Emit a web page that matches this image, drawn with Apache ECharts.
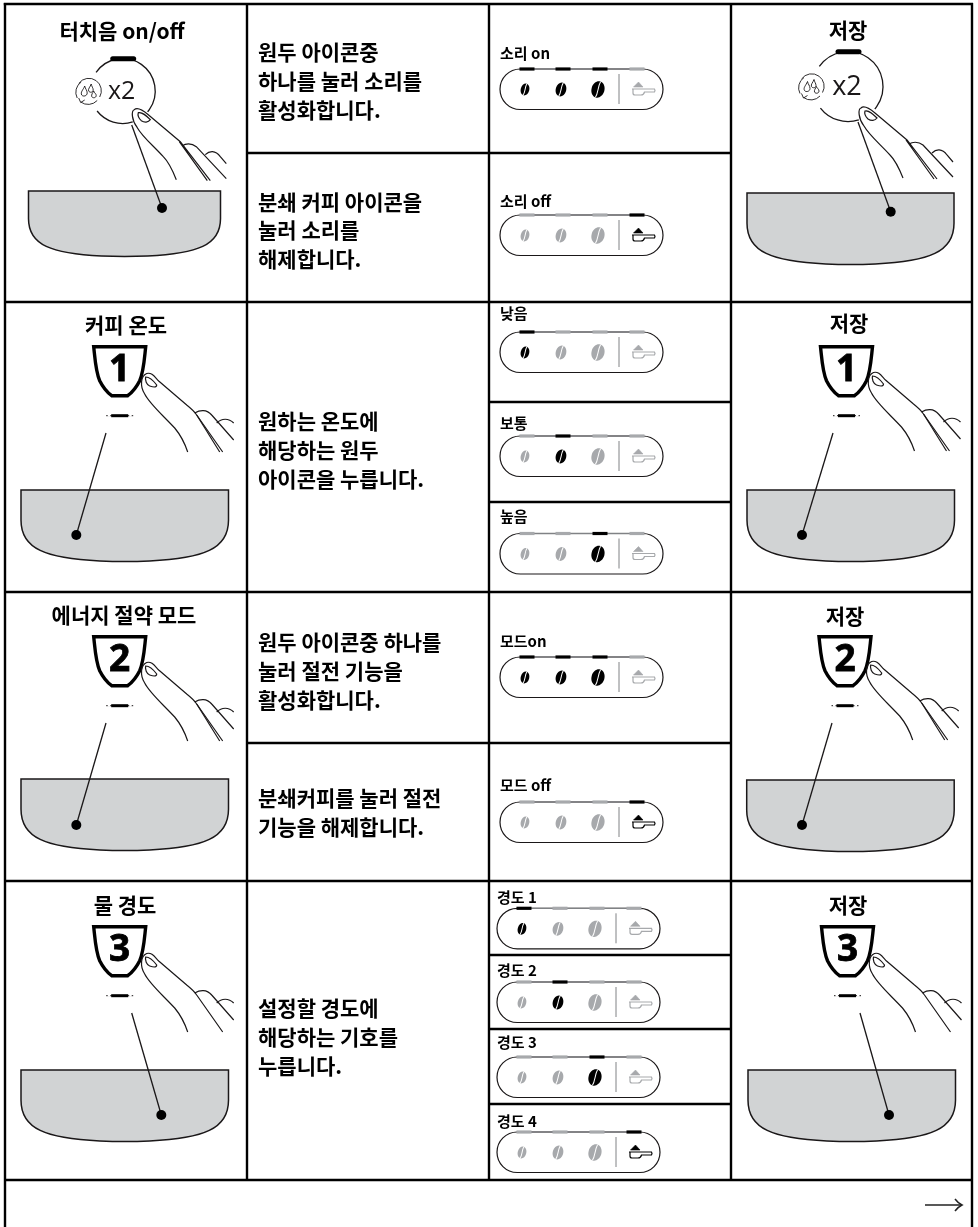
<!DOCTYPE html>
<html>
<head>
<meta charset="utf-8">
<style>
  html, body { margin: 0; padding: 0; background: #fff; }
  #main { width: 978px; height: 1227px; }
</style>
<script src="https://cdn.jsdelivr.net/npm/echarts@6/dist/echarts.min.js"></script>
</head>
<body>
<div id="main"></div>
<script>
// text of the table
const stepTitles = ['터치음 on/off', '커피 온도', '에너지 절약 모드', '물 경도'];
const saveTitle = '저장';
const instructions = [
  ['원두 아이콘중', '하나를 눌러 소리를', '활성화합니다.'],
  ['분쇄 커피 아이콘을', '눌러 소리를', '해제합니다.'],
  ['원하는 온도에', '해당하는 원두', '아이콘을 누릅니다.'],
  ['원두 아이콘중 하나를', '눌러 절전 기능을', '활성화합니다.'],
  ['분쇄커피를 눌러 절전', '기능을 해제합니다.'],
  ['설정할 경도에', '해당하는 기호를', '누릅니다.']
];
const panelLabels = ['소리 on', '소리 off', '낮음', '보통', '높음', '모드on', '모드 off', '경도 1', '경도 2', '경도 3', '경도 4'];
// which of the four panel buttons are lit, per panel
const panelActive = [
  [1, 1, 1, 0], [0, 0, 0, 1],
  [1, 0, 0, 0], [0, 1, 0, 0], [0, 0, 1, 0],
  [1, 1, 1, 0], [0, 0, 0, 1],
  [1, 0, 0, 0], [0, 1, 0, 0], [0, 0, 1, 0], [0, 0, 0, 1]
];
const cupNumbers = ['1', '2', '3'];

const INK = '#1a1718';
const GREY = '#a7a9ac';
const KO = '"Noto Sans CJK KR"';

let els = [];

function line(x1, y1, x2, y2, w, c, cap) {
  els.push({
    type: 'line',
    shape: { x1, y1, x2, y2 },
    style: { stroke: c || INK, lineWidth: w || 1.3, lineCap: cap || 'butt' }
  });
}
function path(d, x, y, style) {
  els.push({
    type: 'path',
    x, y,
    shape: { pathData: d },
    style: Object.assign({ fill: 'none', stroke: INK, lineWidth: 1.2 }, style)
  });
}
function label(text, x, y, font, align, extra) {
  els.push({
    type: 'text',
    style: Object.assign({ text, x, y, font, fill: '#000', align: align || 'left', verticalAlign: 'middle' }, extra)
  });
}

function tray(x, y, w, h) {
  const d = `M0 0 L${w} 0 L${w} ${h * 0.42} C${w} ${h * 0.82} ${w * 0.88} ${h * 0.95} ${w * 0.62} ${h * 0.985}
    Q${w * 0.5} ${h} ${w * 0.38} ${h * 0.985} C${w * 0.12} ${h * 0.95} 0 ${h * 0.82} 0 ${h * 0.42} Z`;
  path(d, x, y, { fill: '#d1d3d4', lineWidth: 1.5 });
}
function dotLine(x1, y1, x2, y2) {
  line(x1, y1, x2, y2, 1.3);
  els.push({ type: 'circle', shape: { cx: x2, cy: y2, r: 5 }, style: { fill: '#000' } });
}

// finger for the round x2 button
function handRound(x, y) {
  path('M43 68 C39 58 35 50 30 45 C20 34 9 25 4 16 C-2 8 -2 -1 1 -2 C4 -5 9 -2 15 3 L47 30 L77 69 M46 30 L74 69', x, y);
  path('M49 34 C52 32 58 31 63 35 L93 67 M72 43 C76 39 82 38 87 45 L93 52', x, y);
  path('M5 1 C9 0 13 4 17 8 C15 11 11 11 8 9 C6 7 4 4 5 1 Z', x, y);
}
// finger for the numbered cup button
function handCup(x, y, single) {
  path('M46 72 C42 60 38 54 33 48 C20 34 8 24 3 14 C-2 6 -1 -4 5 -6.5 C10 -8 13 -3 17 1 L45 25 C50 29 53 32 55 35 L81 72', x, y);
  if (!single) path('M55 35 L78 72', x, y);
  path('M53 33 C58 30 65 29 70 35 L92 60 M75 43 C80 38 87 38 92 43', x, y);
  path('M4 -3 C8 -3 12 1 15 5 C15 8 11 7 8 6 C5 5 3 0 4 -3 Z', x, y);
}

function dropsIcon(x, y) {
  path('M-7 -10 A12.5 12.5 0 0 0 -11 6 M-9.5 -8.5 A12.5 12.5 0 0 1 11.5 5 M9 8.5 A12.5 12.5 0 0 1 -7.5 10 M-9.5 6 L-7.5 10.5 L-3.5 8', x, y, { lineWidth: 0.9 });
  path('M-3.5 -6 C-5 -2 -8 0 -6.5 3 C-5 5 -1 4 -1 1 C-1 -2 -3 -3 -3.5 -6 Z', x, y, { lineWidth: 0.9 });
  path('M3 -8 C2 -5 -0.5 -3 0.5 -1 C1.5 1 5 0.5 5 -2 C5 -4 3.5 -5.5 3 -8 Z', x, y, { lineWidth: 0.9 });
  path('M5.5 -1 C4.5 1 3 2.5 3.5 4.5 C4.5 6.5 8 6 8 3.5 C8 1.5 6 1 5.5 -1 Z', x, y, { lineWidth: 0.9 });
}

function roundButton(cx, cy, r) {
  const a = deg => [cx + r * Math.cos(deg * Math.PI / 180), cy + r * Math.sin(deg * Math.PI / 180)];
  const p1 = a(215), p2 = a(40), p3 = a(142), p4 = a(72);
  path(`M${p1[0]} ${p1[1]} A${r} ${r} 0 1 1 ${p2[0]} ${p2[1]}`, 0, 0, { lineWidth: 1.3 });
  path(`M${p3[0]} ${p3[1]} A${r} ${r} 0 0 0 ${p4[0]} ${p4[1]}`, 0, 0, { lineWidth: 1.3 });
  line(cx - 10, cy - r + 0.3, cx + 11, cy - r + 0.3, 5, '#000', 'round');
  dropsIcon(cx - r - 2, cy + 1);
  label('x2', cx - 1, cy + 1, Math.round(r * 0.78) + 'px "Open Sans"', 'center', { fill: INK });
}

function cupButton(cx, y, num) {
  path(`M-26 0 L26 0 C24.5 14 24 25 20 34 C17 40 12 46 8 49 L-8 49 C-12 46 -17 40 -20 34 C-24 25 -24.5 14 -26 0 Z`,
    cx, y, { lineWidth: 3.4, stroke: '#000' });
  label(num, cx, y + 24, 'bold 37px "Open Sans"', 'center', { stroke: '#000', lineWidth: 0.8 });
  const by = y + 69;
  line(cx - 13.5, by, cx + 13.5, by, 1, INK);
  line(cx - 8.5, by, cx + 8.5, by, 3, '#000');
  line(cx - 12, by, cx - 9.5, by, 2, '#fff');
  line(cx + 9.5, by, cx + 12, by, 2, '#fff');
}

function bean(x, y, w, h, c) {
  els.push({
    type: 'group', x, y, rotation: -0.28,
    children: [
      { type: 'ellipse', shape: { cx: 0, cy: 0, rx: w / 2, ry: h / 2 }, style: { fill: c } },
      {
        type: 'path',
        shape: { pathData: `M0.3 ${-h / 2} C-1 ${-h / 5} 1.2 ${h / 5} -0.3 ${h / 2}` },
        style: { fill: 'none', stroke: '#fff', lineWidth: 1 }
      }
    ]
  });
}

// control panel with three beans and the scoop
function panel(idx, x, y, ly) {
  const on = panelActive[idx];
  label(panelLabels[idx], x, ly, 'bold 15px ' + KO);
  const w = 163, h = 40.5, r = h / 2;
  path(`M${r} 0 L${w - r} 0 A${r} ${r} 0 0 1 ${w - r} ${h} L${r} ${h} A${r} ${r} 0 0 1 ${r} 0 Z`, x, y, { lineWidth: 1.2 });
  line(x + 27, y, x + 137, y, 1.3, '#808285');
  [27, 63, 100, 137].forEach((sx, i) => {
    line(x + sx - 7.5, y, x + sx + 7.5, y, 3.2, on[i] ? '#000' : GREY);
  });
  [[25, 8.5, 12], [61, 10.5, 14], [98, 13, 16.5]].forEach((b, i) => {
    bean(x + b[0], y + 20.5, b[1], b[2], on[i] ? '#000' : GREY);
  });
  line(x + 119, y + 5, x + 119, y + 35, 1, '#808285');
  const sc = on[3] ? '#000' : GREY;
  path('M133.5 18 L138.5 13 L143 18 Z', x, y, { fill: sc, stroke: sc, lineWidth: 0.6 });
  path('M132 20 L144 20 M133 20 L133 24 C133 25.5 134 26 135 26 L141 26 C143 26 144 25 144.5 23 L154.5 23 Q155.5 21.5 154.5 20 L144 20', x, y,
    { stroke: sc, lineWidth: 1.2 });
}

function instruction(lines, y0) {
  lines.forEach((t, i) => label(t, 258, y0 + i * 28.8, 'bold 21px ' + KO));
}

function buildDrawing() {
  els = [];
  const B = 2.4;
  // table rules
  line(3.8, 4, 973, 4, B, '#000');
  line(5, 3, 5, 1227, B, '#000');
  line(972, 3, 972, 1227, B, '#000');
  [302, 592, 881, 1180].forEach(y => line(4, y, 973, y, B, '#000'));
  [247, 489, 731].forEach(x => line(x, 4, x, 1180, B, '#000'));
  line(247, 153, 731, 153, B, '#000');
  line(489, 402, 731, 402, B, '#000');
  line(489, 502, 731, 502, B, '#000');
  line(247, 743, 731, 743, B, '#000');
  line(489, 955, 731, 955, B, '#000');
  line(489, 1029, 731, 1029, B, '#000');
  line(489, 1104, 731, 1104, B, '#000');

  // titles
  const TF = 'bold 21px ' + KO;
  label(stepTitles[0], 122, 31, TF, 'center');
  label(stepTitles[1], 126, 325, TF, 'center');
  label(stepTitles[2], 124, 615, TF, 'center');
  label(stepTitles[3], 125, 905, TF, 'center');
  label(saveTitle, 848, 30, TF, 'center');
  label(saveTitle, 849, 323, TF, 'center');
  label(saveTitle, 845, 616, TF, 'center');
  label(saveTitle, 848, 905, TF, 'center');

  // row 1
  tray(28.5, 191, 192, 66);
  dotLine(131.7, 125, 162, 208);
  roundButton(122.7, 91, 32.5);
  handRound(133.3, 111.7);
  tray(747, 193, 207, 72);
  dotLine(858, 122, 890.7, 211.7);
  roundButton(848, 86.5, 35);
  handRound(860, 110);

  // rows 2-4
  [
    [119.7, 346.7, 0, 141.7, 380, false, 106, 433, 76.3, 535, 21, 490],
    [119.7, 636.7, 1, 141.7, 669, false, 106, 723, 76.3, 825, 21, 779],
    [119.7, 926.7, 2, 141.7, 960, true, 131.7, 1013, 161.3, 1115, 21, 1070],
    [846.5, 346.7, 0, 868.5, 379, false, 833, 433, 802, 535, 747, 490],
    [845, 636.7, 1, 866.7, 668, false, 832, 723, 802, 825, 746.7, 780],
    [847.5, 926.7, 2, 869.5, 960, true, 860, 1013, 889, 1115, 748, 1070]
  ].forEach(s => {
    tray(s[10], s[11], 207.5, 72);
    dotLine(s[6], s[7], s[8], s[9]);
    cupButton(s[0], s[1], cupNumbers[s[2]]);
    handCup(s[3], s[4], s[5]);
  });

  // instructions
  instruction(instructions[0], 52);
  instruction(instructions[1], 201.7);
  instruction(instructions[2], 421);
  instruction(instructions[3], 642);
  instruction(instructions[4], 798);
  instruction(instructions[5], 1008);

  // panels
  panel(0, 500, 69, 53);
  panel(1, 500, 215, 201);
  panel(2, 500, 332, 313);
  panel(3, 500, 436, 423);
  panel(4, 500, 533.5, 516);
  panel(5, 500, 657, 641.7);
  panel(6, 500, 802, 785);
  panel(7, 497, 908.3, 897);
  panel(8, 497, 982, 970);
  panel(9, 497, 1057, 1042);
  panel(10, 497, 1132, 1121);

  // next-page arrow
  line(925, 1205, 961, 1205, 1.5, '#222');
  path('M955 1199 Q958 1203 962 1205 Q958 1207 955 1211', 0, 0, { lineWidth: 1.5, stroke: '#222' });
  return els;
}

const chart = echarts.init(document.getElementById('main'));
chart.setOption({
  animation: false,
  grid: { left: 0, right: 0, top: 0, bottom: 0 },
  xAxis: { type: 'value', min: 0, max: 978, show: false },
  yAxis: { type: 'value', min: 0, max: 1227, inverse: true, show: false },
  series: [{
    type: 'custom',
    coordinateSystem: 'cartesian2d',
    clip: false,
    silent: true,
    data: [[0, 0]],
    renderItem: (params, api) => {
      const o = api.coord([0, 0]);
      return { type: 'group', x: o[0], y: o[1], children: buildDrawing() };
    }
  }]
});
</script>
</body>
</html>
